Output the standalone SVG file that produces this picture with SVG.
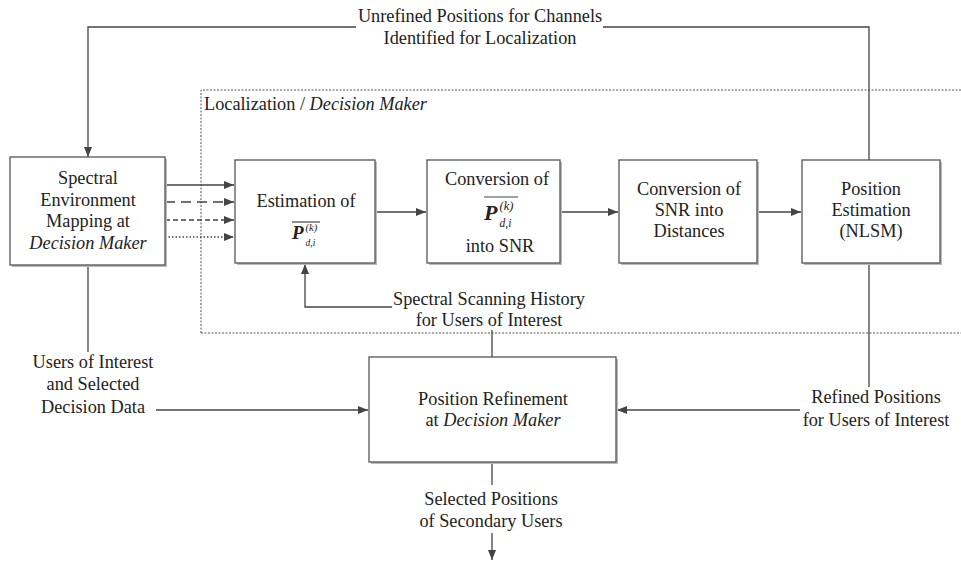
<svg xmlns="http://www.w3.org/2000/svg" width="961" height="561" viewBox="0 0 961 561" font-family="'Liberation Serif', 'DejaVu Serif', serif">
<style>
text{font-family:'Liberation Serif','DejaVu Serif',serif;font-size:18.3px;fill:#222;text-anchor:middle}
.it{font-style:italic}
.box{fill:#fff;stroke:#555;stroke-width:1.3}
.sh{fill:none;stroke:#bbb;stroke-width:2}
.ln{fill:none;stroke:#444;stroke-width:1.3}
.ar{fill:none;stroke:#444;stroke-width:1.3;marker-end:url(#ah)}
.fm{font-style:italic;font-weight:bold}
.ol{stroke:#444;stroke-width:1.2}
</style>
<defs>
<marker id="ah" viewBox="0 0 10 10" refX="10" refY="5" markerWidth="10" markerHeight="10" markerUnits="userSpaceOnUse" orient="auto"><path d="M0,1 L10,5 L0,9 Z" fill="#444"/></marker>
</defs>
<rect width="961" height="561" fill="#fff"/>

<g id="localization">
<path d="M201,333 V90 H965 M201,333 H965" fill="none" stroke="#555" stroke-width="1" stroke-dasharray="2,1.5"/>
<text x="204" y="110" style="text-anchor:start">Localization / <tspan class="it">Decision Maker</tspan></text>
</g>

<g id="connectors">
<path class="ar" d="M356,27 H88 V157"/>
<path class="ln" d="M603,27 H869 V160"/>
<path class="ar" d="M165,185 H234"/>
<path class="ar" d="M165,202 H234" stroke-dasharray="10,6"/>
<path class="ar" d="M165,220 H234" stroke-dasharray="5,3"/>
<path class="ar" d="M165,237 H234" stroke-dasharray="1.5,2"/>
<path class="ar" d="M375,212 H426"/>
<path class="ar" d="M560,212 H618"/>
<path class="ar" d="M757,212 H801"/>
<path class="ar" d="M392,307 H305 V264"/>
<path class="ln" d="M492,330 V357"/>
<path class="ln" d="M88,265 V352"/>
<path class="ar" d="M156,410 H368"/>
<path class="ln" d="M869,263 V387"/>
<path class="ar" d="M800,410 H617"/>
<path class="ln" d="M492,462 V485"/>
<path class="ar" d="M492,533 V560"/>
</g>

<g id="labels">
<text x="480" y="22">Unrefined Positions for Channels</text>
<text x="480" y="44">Identified for Localization</text>
<text x="489" y="305">Spectral Scanning History</text>
<text x="489" y="326">for Users of Interest</text>
<text x="93" y="368">Users of Interest</text>
<text x="93" y="390">and Selected</text>
<text x="93" y="413">Decision Data</text>
<text x="876" y="403">Refined Positions</text>
<text x="876" y="426">for Users of Interest</text>
<text x="491" y="505">Selected Positions</text>
<text x="491" y="527">of Secondary Users</text>
</g>

<g id="spectral">
<path class="sh" d="M166,159 V266 H12"/>
<rect class="box" x="10" y="157" width="155" height="108"/>
<text x="88" y="184">Spectral</text>
<text x="88" y="206">Environment</text>
<text x="88" y="227">Mapping at</text>
<text x="88" y="249" class="it">Decision Maker</text>
</g>

<g id="estimation">
<path class="sh" d="M376,162 V264 H237"/>
<rect class="box" x="235" y="160" width="140" height="103"/>
<text x="306" y="207">Estimation of</text>
<line class="ol" x1="292" y1="222" x2="320" y2="222"/>
<text x="292" y="239" class="fm" style="text-anchor:start;font-size:19px">P</text>
<text x="305.5" y="231" class="it" style="text-anchor:start;font-size:10.5px">(k)</text>
<text x="305.5" y="246" class="it" style="text-anchor:start;font-size:9.5px">d,i</text>
</g>

<g id="conversionP">
<path class="sh" d="M561,162 V264 H429"/>
<rect class="box" x="427" y="160" width="133" height="103"/>
<text x="497" y="185">Conversion of</text>
<line class="ol" x1="484" y1="197" x2="518" y2="197"/>
<text x="484" y="220" class="fm" style="text-anchor:start;font-size:22px">P</text>
<text x="499.5" y="210" class="it" style="text-anchor:start;font-size:12.5px">(k)</text>
<text x="499.5" y="227" class="it" style="text-anchor:start;font-size:11.5px">d,i</text>
<text x="500" y="252">into SNR</text>
</g>

<g id="conversionSNR">
<path class="sh" d="M758,162 V264 H621"/>
<rect class="box" x="619" y="160" width="138" height="103"/>
<text x="689" y="195">Conversion of</text>
<text x="689" y="216">SNR into</text>
<text x="689" y="237">Distances</text>
</g>

<g id="position">
<path class="sh" d="M941,162 V264 H804"/>
<rect class="box" x="802" y="160" width="138" height="103"/>
<text x="871" y="195">Position</text>
<text x="871" y="216">Estimation</text>
<text x="871" y="237">(NLSM)</text>
</g>

<g id="refinement">
<path class="sh" d="M617,359 V463 H371"/>
<rect class="box" x="369" y="357" width="247" height="105"/>
<text x="493" y="405">Position Refinement</text>
<text x="493" y="426">at <tspan class="it">Decision Maker</tspan></text>
</g>
</svg>
